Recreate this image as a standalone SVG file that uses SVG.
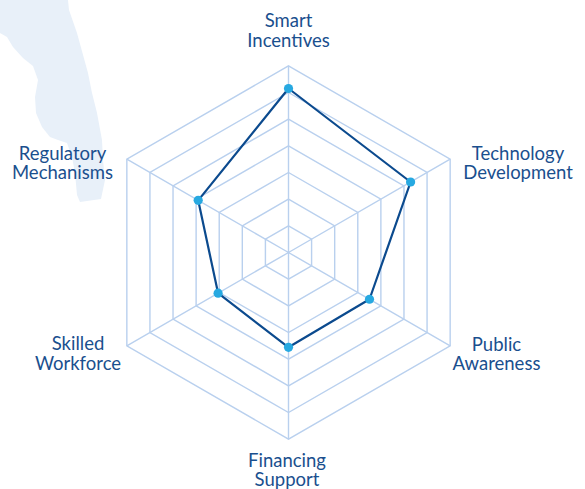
<svg xmlns="http://www.w3.org/2000/svg" width="585" height="489" viewBox="0 0 585 489">
<style>
.grid{fill:none;stroke:#b9d0ee;stroke-width:1.4}
.lbl{font-family:Lato,"Liberation Sans",sans-serif;font-size:18.5px;fill:#1a4f8e;text-anchor:middle}
.data{fill:none;stroke:#0b4a8e;stroke-width:2.2;stroke-linejoin:round}
.pt{fill:#27a9e1}
</style>
<rect width="585" height="489" fill="#ffffff"/>
<path id="blob" d="M0,0 L68,0 L69,10 L77,33 L88,73 L92,93 L97,113 L102,140 L103,160 L105,180 L101,199 L80,202 L77,195 L75,173 L72,157 L67,143 L58,140 L50,137 L42,127 L36,113 L35,97 L38,80 L33,66 L23,58 L13,47 L7,37 L0,33 Z" fill="#e8f0f9"/>
<g id="grid" class="grid">
<polygon points="288.5,225.83 311.59,239.17 311.59,265.83 288.5,279.17 265.41,265.83 265.41,239.17"/>
<polygon points="288.5,199.17 334.69,225.83 334.69,279.17 288.5,305.83 242.31,279.17 242.31,225.83"/>
<polygon points="288.5,172.5 357.78,212.5 357.78,292.5 288.5,332.5 219.22,292.5 219.22,212.5"/>
<polygon points="288.5,145.83 380.88,199.17 380.88,305.83 288.5,359.17 196.12,305.83 196.12,199.17"/>
<polygon points="288.5,119.17 403.97,185.83 403.97,319.17 288.5,385.83 173.03,319.17 173.03,185.83"/>
<polygon points="288.5,92.5 427.06,172.5 427.06,332.5 288.5,412.5 149.94,332.5 149.94,172.5"/>
<polygon points="288.5,65.83 450.16,159.17 450.16,345.83 288.5,439.17 126.84,345.83 126.84,159.17"/>
<path d="M288.5,252.5 L288.5,65.83 M288.5,252.5 L450.16,159.17 M288.5,252.5 L450.16,345.83 M288.5,252.5 L288.5,439.17 M288.5,252.5 L126.84,345.83 M288.5,252.5 L126.84,159.17"/>
</g>
<g id="connectors">
<polygon class="data" points="288.5,88.5 410.6,182 369.5,299.25 288.5,347.3 218.1,293.15 198.2,200.35"/>
</g>
<g id="smart-incentives">
<circle class="pt" cx="288.5" cy="88.5" r="4.6"/>
<text class="lbl" x="288.5" y="27"><tspan x="288.5">Smart</tspan><tspan x="288.5" dy="19.5">Incentives</tspan></text>
</g>
<g id="technology-development">
<circle class="pt" cx="410.6" cy="182" r="4.6"/>
<text class="lbl" x="518" y="159.5"><tspan x="518">Technology</tspan><tspan x="518" dy="19">Development</tspan></text>
</g>
<g id="public-awareness">
<circle class="pt" cx="369.5" cy="299.25" r="4.6"/>
<text class="lbl" x="496.5" y="350.7"><tspan x="496.5">Public</tspan><tspan x="496.5" dy="19.3">Awareness</tspan></text>
</g>
<g id="financing-support">
<circle class="pt" cx="288.5" cy="347.3" r="4.6"/>
<text class="lbl" x="287" y="467"><tspan x="287">Financing</tspan><tspan x="287" dy="18.7">Support</tspan></text>
</g>
<g id="skilled-workforce">
<circle class="pt" cx="218.1" cy="293.15" r="4.6"/>
<text class="lbl" x="78" y="350"><tspan x="78">Skilled</tspan><tspan x="78" dy="20">Workforce</tspan></text>
</g>
<g id="regulatory-mechanisms">
<circle class="pt" cx="198.2" cy="200.35" r="4.6"/>
<text class="lbl" x="62.5" y="159.5"><tspan x="62.5">Regulatory</tspan><tspan x="62.5" dy="19">Mechanisms</tspan></text>
</g>
</svg>
